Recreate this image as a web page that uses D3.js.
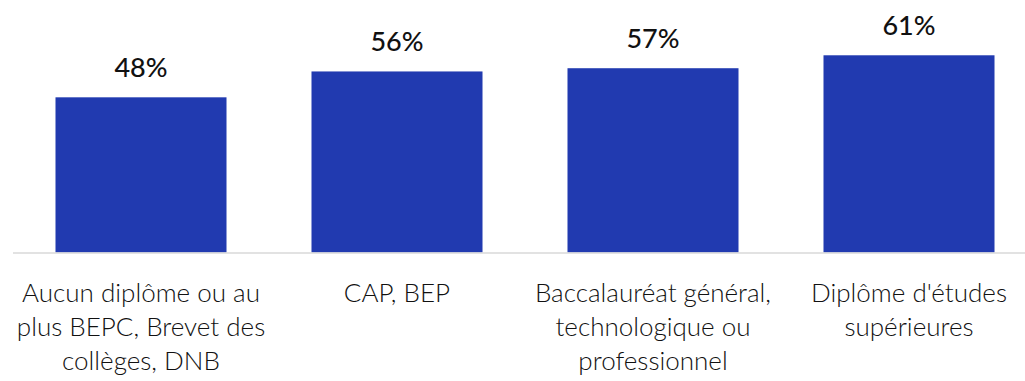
<!DOCTYPE html>
<html>
<head>
<meta charset="utf-8">
<script src="https://cdn.jsdelivr.net/npm/d3@7"></script>
<style>
  html, body { margin: 0; padding: 0; background: #fff; }
  svg { display: block; }
</style>
</head>
<body>
<svg id="chart" width="1025" height="381"></svg>
<script>
// Share (%) by highest diploma obtained
const categories = [
  "Aucun diplôme ou au\nplus BEPC, Brevet des\ncollèges, DNB",
  "CAP, BEP",
  "Baccalauréat général,\ntechnologique ou\nprofessionnel",
  "Diplôme d'études\nsupérieures"
];
const values = [48, 56, 57, 61];
const valueLabels = ["48%", "56%", "57%", "61%"];

const svg = d3.select("#chart");
const baseY = 252.5;

const x = d3.scaleBand()
  .domain(categories)
  .range([13, 1037])
  .paddingInner(0.332)
  .paddingOuter(0.166);

const y = d3.scaleLinear()
  .domain([0, 100])
  .range([baseY, baseY - 323.3]);

const font = "Lato, 'Open Sans', sans-serif";

// bars
svg.append("g").selectAll("rect")
  .data(values)
  .join("rect")
  .attr("x", (d, i) => x(categories[i]))
  .attr("y", d => y(d))
  .attr("width", x.bandwidth())
  .attr("height", d => y(0) - y(d))
  .attr("fill", "#213AB0");

// baseline
svg.append("line")
  .attr("x1", 13).attr("x2", 1025)
  .attr("y1", baseY + 0.5).attr("y2", baseY + 0.5)
  .attr("stroke", "#d9d9d9")
  .attr("stroke-width", 1.5);

// value labels
svg.append("g").selectAll("text")
  .data(values)
  .join("text")
  .attr("x", (d, i) => x(categories[i]) + x.bandwidth() / 2)
  .attr("y", d => y(d) - 20.5)
  .attr("text-anchor", "middle")
  .attr("font-family", font)
  .attr("font-size", 27)
  .attr("font-weight", 500)
  .attr("fill", "#111")
  .text((d, i) => valueLabels[i]);

// category labels
const cat = svg.append("g").selectAll("text")
  .data(categories)
  .join("text")
  .attr("x", d => x(d) + x.bandwidth() / 2)
  .attr("y", 302)
  .attr("text-anchor", "middle")
  .attr("font-family", font)
  .attr("font-size", 26)
  .attr("font-weight", 300)
  .attr("fill", "#111");

cat.selectAll("tspan")
  .data(d => d.split("\n"))
  .join("tspan")
  .attr("x", function() { return this.parentNode.getAttribute("x"); })
  .attr("dy", (d, i) => i === 0 ? 0 : 34)
  .text(d => d);
</script>
</body>
</html>
